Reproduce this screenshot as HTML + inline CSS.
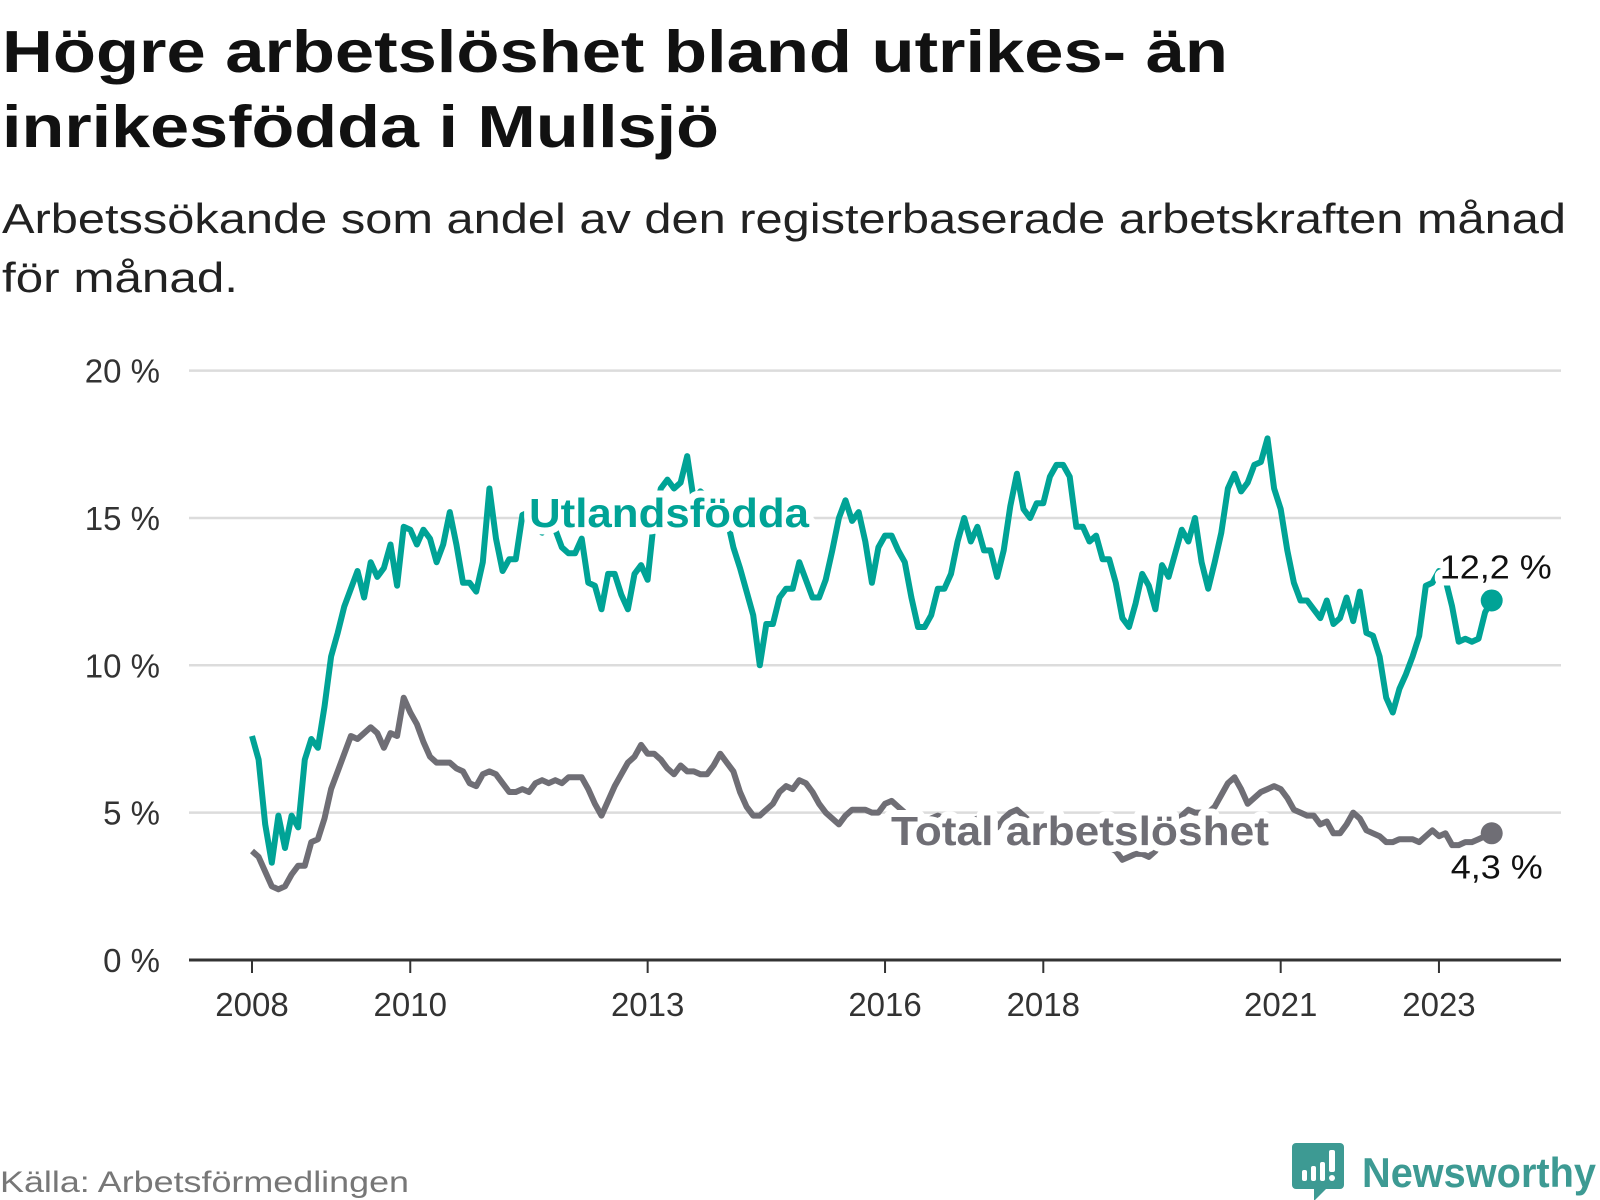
<!DOCTYPE html>
<html><head><meta charset="utf-8"><style>
html,body{margin:0;padding:0;background:#fff;}
svg{display:block;font-family:"Liberation Sans",DejaVu Sans,sans-serif;}
</style></head><body>
<svg id="chart" width="1600" height="1200" viewBox="0 0 1600 1200">
<text x="2" y="72" font-size="59" font-weight="bold" fill="#111" textLength="1226" lengthAdjust="spacingAndGlyphs">Högre arbetslöshet bland utrikes- än</text>
<text x="2" y="147" font-size="59" font-weight="bold" fill="#111" textLength="717" lengthAdjust="spacingAndGlyphs">inrikesfödda i Mullsjö</text>
<text x="2" y="233" font-size="42" fill="#222" textLength="1564" lengthAdjust="spacingAndGlyphs">Arbetssökande som andel av den registerbaserade arbetskraften månad</text>
<text x="2" y="292" font-size="42" fill="#222" textLength="236" lengthAdjust="spacingAndGlyphs">för månad.</text>
<g id="grid"></g>
<g id="series"></g>
<g id="labels"></g>
<text x="0" y="1192" font-size="30" fill="#777" textLength="409" lengthAdjust="spacingAndGlyphs">Källa: Arbetsförmedlingen</text>
<g>
<path d="M1296 1143 h44 a4 4 0 0 1 4 4 v38 a4 4 0 0 1 -4 4 h-14 l-12 12 v-12 h-18 a4 4 0 0 1 -4 -4 v-38 a4 4 0 0 1 4 -4z" fill="#3d9a93"/>
<rect x="1302" y="1170" width="5" height="11" rx="2" fill="#fff"/>
<rect x="1311" y="1166" width="5" height="15" rx="2" fill="#fff"/>
<rect x="1320" y="1162" width="5" height="19" rx="2" fill="#fff"/>
<rect x="1329" y="1150" width="6" height="22" rx="2" fill="#fff"/>
<circle cx="1332" cy="1178" r="3" fill="#fff"/>
<text x="1362" y="1187" font-size="42" font-weight="bold" fill="#3d9a93" textLength="234" lengthAdjust="spacingAndGlyphs">Newsworthy</text>
</g>
</svg>
<script>
const yTicks = [0, 5, 10, 15, 20];
const yTickLabels = ["0 %", "5 %", "10 %", "15 %", "20 %"];
const xTickYears = [2008, 2010, 2013, 2016, 2018, 2021, 2023];
const startYear = 2008;
const utlandsfodda = [7.6,6.8,4.6,3.3,4.9,3.8,4.9,4.5,6.8,7.5,7.2,8.6,10.3,11.1,12.0,12.6,13.2,12.3,13.5,13.0,13.3,14.1,12.7,14.7,14.6,14.1,14.6,14.3,13.5,14.1,15.2,14.1,12.8,12.8,12.5,13.5,16.0,14.3,13.2,13.6,13.6,15.1,15.2,14.8,14.5,14.7,14.6,14.0,13.8,13.8,14.3,12.8,12.7,11.9,13.1,13.1,12.4,11.9,13.1,13.4,12.9,15.0,16.0,16.3,16.0,16.2,17.1,15.6,15.9,15.7,15.6,15.5,15.0,14.0,13.3,12.5,11.7,10.0,11.4,11.4,12.3,12.6,12.6,13.5,12.9,12.3,12.3,12.9,13.9,15.0,15.6,14.9,15.2,14.2,12.8,14.0,14.4,14.4,13.9,13.5,12.3,11.3,11.3,11.7,12.6,12.6,13.1,14.2,15.0,14.2,14.7,13.9,13.9,13.0,13.9,15.4,16.5,15.3,15.0,15.5,15.5,16.4,16.8,16.8,16.4,14.7,14.7,14.2,14.4,13.6,13.6,12.8,11.6,11.3,12.1,13.1,12.7,11.9,13.4,13.0,13.8,14.6,14.2,15.0,13.5,12.6,13.5,14.5,16.0,16.5,15.9,16.2,16.8,16.9,17.7,16.0,15.3,13.9,12.8,12.2,12.2,11.9,11.6,12.2,11.4,11.6,12.3,11.5,12.5,11.1,11.0,10.3,8.9,8.4,9.2,9.7,10.3,11.0,12.7,12.8,13.2,12.9,12.0,10.8,10.9,10.8,10.9,11.8,12.2];
const total = [3.7,3.5,3.0,2.5,2.4,2.5,2.9,3.2,3.2,4.0,4.1,4.8,5.8,6.4,7.0,7.6,7.5,7.7,7.9,7.7,7.2,7.7,7.6,8.9,8.4,8.0,7.4,6.9,6.7,6.7,6.7,6.5,6.4,6.0,5.9,6.3,6.4,6.3,6.0,5.7,5.7,5.8,5.7,6.0,6.1,6.0,6.1,6.0,6.2,6.2,6.2,5.8,5.3,4.9,5.4,5.9,6.3,6.7,6.9,7.3,7.0,7.0,6.8,6.5,6.3,6.6,6.4,6.4,6.3,6.3,6.6,7.0,6.7,6.4,5.7,5.2,4.9,4.9,5.1,5.3,5.7,5.9,5.8,6.1,6.0,5.7,5.3,5.0,4.8,4.6,4.9,5.1,5.1,5.1,5.0,5.0,5.3,5.4,5.2,5.0,4.8,4.7,4.6,4.8,4.9,4.8,4.7,4.6,4.6,4.7,4.8,4.7,4.6,4.5,4.8,5.0,5.1,4.9,4.7,4.6,4.5,4.6,4.7,4.6,4.5,4.4,4.3,4.2,4.1,4.0,3.8,3.7,3.4,3.5,3.6,3.6,3.5,3.7,4.0,4.3,4.6,4.9,5.1,5.0,5.0,5.0,5.2,5.6,6.0,6.2,5.8,5.3,5.5,5.7,5.8,5.9,5.8,5.5,5.1,5.0,4.9,4.9,4.6,4.7,4.3,4.3,4.6,5.0,4.8,4.4,4.3,4.2,4.0,4.0,4.1,4.1,4.1,4.0,4.2,4.4,4.2,4.3,3.9,3.9,4.0,4.0,4.1,4.2,4.3];
const lastLabels = ["12,2 %", "4,3 %"];

const NS = "http://www.w3.org/2000/svg";
const X0 = 252, PX_YEAR = 79.13, Y0 = 960, PX_PCT = 29.47;
function xMonth(i){ return X0 + i * PX_YEAR / 12; }
function xYear(y){ return X0 + (y - startYear) * PX_YEAR; }
function yVal(v){ return Y0 - v * PX_PCT; }
function mk(tag, attrs, parent){ const e = document.createElementNS(NS, tag); for (const k in attrs) e.setAttribute(k, attrs[k]); parent.appendChild(e); return e; }

const grid = document.getElementById('grid');
yTicks.forEach((t, i) => {
  if (t > 0) {
    const l = mk('line', {x1:189, x2:1561, y1:yVal(t), y2:yVal(t), stroke:'#dcdcdc', 'stroke-width':2.5}, grid);
    
    
  }
  const tx = mk('text', {x:160, y:yVal(t)+12, 'text-anchor':'end', 'font-size':33, fill:'#333'}, grid);
  tx.textContent = yTickLabels[i];
  
  
});
const axis = mk('line', {x1:189, x2:1561, y1:Y0, y2:Y0, stroke:'#333', 'stroke-width':3}, grid);


xTickYears.forEach(y => {
  const tk = mk('line', {x1:xYear(y), x2:xYear(y), y1:Y0, y2:Y0+13, stroke:'#333', 'stroke-width':2}, grid);
  
  
  const tx = mk('text', {x:xYear(y), y:1016, 'text-anchor':'middle', 'font-size':33, fill:'#333'}, grid);
  tx.textContent = String(y);
  
  
});

const series = document.getElementById('series');
function drawLine(data, color, name){
  const d = data.map((v, i) => (i ? 'L' : 'M') + xMonth(i).toFixed(1) + ' ' + yVal(v).toFixed(1)).join(' ');
  const p = mk('path', {d:d, fill:'none', stroke:color, 'stroke-width':6, 'stroke-linejoin':'round'}, series);
  
  
  const n = data.length - 1;
  const c = mk('circle', {cx:xMonth(n), cy:yVal(data[n]), r:11, fill:color}, series);
  
  
}
drawLine(total, '#6f6e75', 'total');
drawLine(utlandsfodda, '#00a396', 'utlandsfodda');

const labels = document.getElementById('labels');
function lab(txt, x, y, size, weight, color, name, len){
  const t = mk('text', {x:x, y:y, 'font-size':size, 'font-weight':weight, fill:color, stroke:'#fff', 'stroke-width':14, 'paint-order':'stroke', 'stroke-linejoin':'round'}, labels);
  if (len) { t.setAttribute('textLength', len); t.setAttribute('lengthAdjust', 'spacingAndGlyphs'); }
  t.textContent = txt;
  
  
  return t;
}
lab('Utlandsfödda', 529, 527, 41, 'bold', '#00a396', 'utlandsfodda-label', 280);
lab('Total arbetslöshet', 891, 845, 41, 'bold', '#6f6e75', 'total-label', 378);
const nU = utlandsfodda.length - 1, nT = total.length - 1;
lab(lastLabels[0], xMonth(nU) - 52, yVal(utlandsfodda[nU]) - 22, 33, 'normal', '#111', 'utlandsfodda-last-value', 112);
lab(lastLabels[1], xMonth(nT) - 41, yVal(total[nT]) + 45, 33, 'normal', '#111', 'total-last-value', 92);
</script>
</body></html>
